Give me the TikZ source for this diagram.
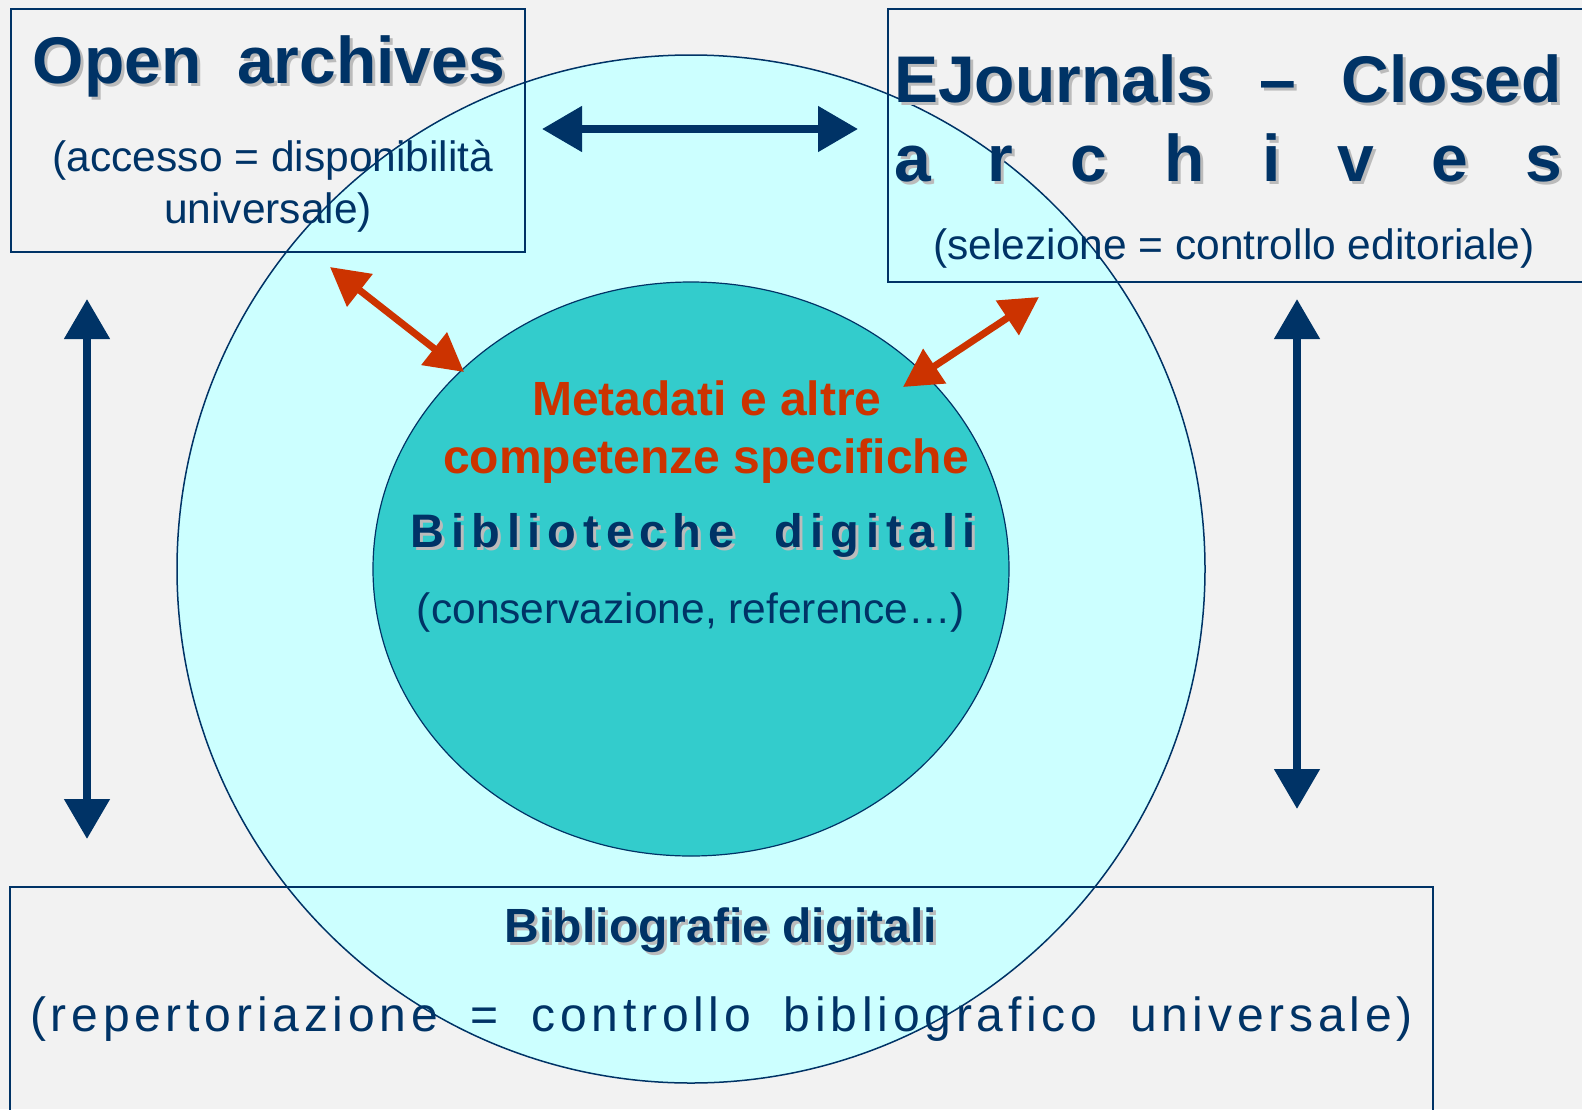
\documentclass[tikz,border=0pt]{standalone}
\usepackage{fontspec}
\setmainfont{Liberation Sans}
\usepackage{tikz}
\usetikzlibrary{arrows.meta}
\usetikzlibrary{shapes.geometric}

\definecolor{navy}{HTML}{003366}
\definecolor{paleaqua}{HTML}{CCFFFF}
\definecolor{tealfill}{HTML}{33CCCC}
\definecolor{rust}{HTML}{CC3300}
\definecolor{bggray}{HTML}{F2F2F2}
\definecolor{shadowgray}{HTML}{BBBBBB}

\begin{document}
\begin{tikzpicture}[
    x=1pt, y=-1pt,
    every node/.style={inner sep=0pt, outer sep=0pt},
    boxframe/.style={draw=navy, line width=2pt, rectangle},
    bigtitle/.style={font=\fontsize{66}{79}\selectfont\bfseries, text=navy},
    midtitle/.style={font=\fontsize{48}{57}\selectfont\bfseries, text=navy},
    subtext/.style={font=\fontsize{42.5}{52}\selectfont, text=navy},
    redtext/.style={font=\fontsize{48}{57}\selectfont\bfseries, text=rust},
    widetitle/.style={font=\fontsize{47}{56}\selectfont\bfseries\addfontfeatures{LetterSpace=15}, text=navy},
    ghost/.style={text=shadowgray, xshift=3pt, yshift=-3pt},
    navyarrow/.style={draw=navy, line width=8pt, >={Triangle[length=40pt,width=44pt]}, <->},
    redarrow/.style={draw=rust, line width=7pt, >={Triangle[length=38pt,width=40pt]}, <->}
  ]
  % sfondo
  \useasboundingbox (0,0) rectangle (1582,1109);
  \fill[bggray] (0,0) rectangle (1582,1109);
  \clip (0,0) rectangle (1582,1109);

  % cerchio esterno e biblioteche digitali
  \node[circle, draw=navy, line width=1.5pt, fill=paleaqua, minimum size=1028pt] (outer) at (691,569) {};
  \node[ellipse, draw=navy, line width=1.2pt, fill=tealfill, minimum width=636pt, minimum height=574pt] (inner) at (691,569) {};

  % riquadri
  \node[boxframe, minimum width=514pt, minimum height=243pt] (openbox) at (268,130.5) {};
  \node[boxframe, minimum width=712pt, minimum height=273pt] (closedbox) at (1244,145.5) {};
  \node[boxframe, minimum width=1423pt, minimum height=243pt] (biblbox) at (721.5,1008.5) {};

  % frecce blu
  \coordinate (top-l) at (542,129);
  \coordinate (top-r) at (858,129);
  \coordinate (left-up) at (87,299);
  \coordinate (left-down) at (87,839);
  \coordinate (right-up) at (1297,299);
  \coordinate (right-down) at (1297,809);
  \draw[navyarrow] (top-l) -- (top-r);
  \draw[navyarrow] (left-up) -- (left-down);
  \draw[navyarrow] (right-up) -- (right-down);

  % frecce rosse
  \coordinate (open-end) at (330,267);
  \coordinate (meta-l) at (464,372);
  \coordinate (closed-end) at (1039,297);
  \coordinate (meta-r) at (903,387);
  \draw[redarrow] (open-end) -- (meta-l);
  \draw[redarrow] (closed-end) -- (meta-r);

  % open archives
  \node[bigtitle, ghost, anchor=base] at (269,83) {Open\hspace{0.54em}archives};
  \node[bigtitle, anchor=base] (open-title) at (269,83) {Open\hspace{0.54em}archives};
  \node[subtext, anchor=base] (open-sub1) at (273,171) {(accesso = disponibilità};
  \node[subtext, anchor=base] (open-sub2) at (268,223) {universale)};

  % ejournals
  \node[bigtitle, ghost, anchor=base west] at (894,102) {\hbox to 668pt{EJournals\hfill–\hfill Closed}};
  \node[bigtitle, anchor=base west] (ej-title1) at (894,102) {\hbox to 668pt{EJournals\hfill–\hfill Closed}};
  \node[bigtitle, ghost, anchor=base west] at (894,181) {\hbox to 668pt{a\hfill r\hfill c\hfill h\hfill i\hfill v\hfill e\hfill s}};
  \node[bigtitle, anchor=base west] (ej-title2) at (894,181) {\hbox to 668pt{a\hfill r\hfill c\hfill h\hfill i\hfill v\hfill e\hfill s}};
  \node[subtext, anchor=base] (ej-sub) at (1234,259) {(selezione = controllo editoriale)};

  % centro
  \node[redtext, anchor=base] (meta1) at (707,415) {Metadati e altre};
  \node[redtext, anchor=base] (meta2) at (706,473) {competenze specifiche};
  \node[widetitle, ghost, anchor=base] at (693,547) {Biblioteche\hspace{0.85em}digitali};
  \node[widetitle, anchor=base] (bib-title) at (693,547) {Biblioteche\hspace{0.85em}digitali};
  \node[subtext, anchor=base] (bib-sub) at (691,623) {(conservazione, reference…)};

  % bibliografie
  \node[midtitle, ghost, anchor=base] at (721,942) {Bibliografie digitali};
  \node[midtitle, anchor=base] (bibl-title) at (721,942) {Bibliografie digitali};
  \node[subtext, anchor=base west, font=\fontsize{48}{58}\selectfont\addfontfeatures{LetterSpace=10}] (bibl-sub) at (30,1031)
    {\hbox to 1383pt{(repertoriazione\hfill=\hfill controllo\hfill bibliografico\hfill universale)}};
\end{tikzpicture}
\end{document}
